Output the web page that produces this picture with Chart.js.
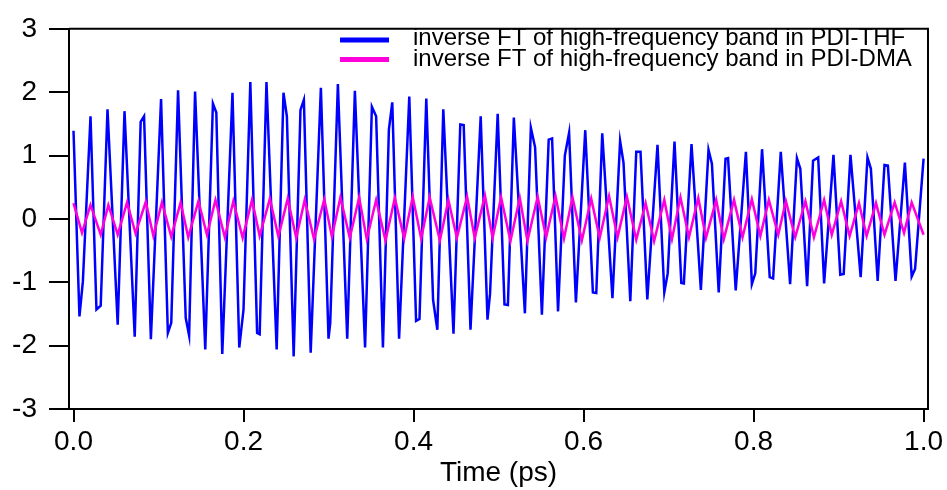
<!DOCTYPE html>
<html>
<head>
<meta charset="utf-8">
<script src="https://cdn.jsdelivr.net/npm/chart.js@4.4.1/dist/chart.umd.min.js"></script>
<style>
  html, body { margin: 0; padding: 0; background: #fff; }
  canvas { display: block; }
</style>
</head>
<body>
<canvas id="chart" width="947" height="490"></canvas>
<script>
// PDI-THF (time in ps, signal)
const thfTime = [
    0, 0.007, 0.011, 0.020, 0.027, 0.032, 0.040, 0.052, 0.060, 0.072,
    0.079, 0.083, 0.091, 0.103, 0.111, 0.115, 0.123, 0.132, 0.136, 0.143,
    0.155, 0.164, 0.168, 0.175, 0.187, 0.195, 0.200, 0.208, 0.216, 0.219,
    0.227, 0.239, 0.247, 0.251, 0.259, 0.267, 0.271, 0.279, 0.291, 0.300,
    0.302, 0.311, 0.322, 0.331, 0.343, 0.351, 0.356, 0.364, 0.371, 0.375,
    0.383, 0.395, 0.403, 0.407, 0.415, 0.423, 0.428, 0.435, 0.447, 0.455,
    0.459, 0.467, 0.479, 0.487, 0.490, 0.499, 0.507, 0.511, 0.518, 0.531,
    0.538, 0.543, 0.551, 0.559, 0.563, 0.570, 0.578, 0.583, 0.591, 0.602,
    0.611, 0.615, 0.622, 0.634, 0.643, 0.647, 0.655, 0.662, 0.667, 0.675,
    0.687, 0.695, 0.699, 0.707, 0.715, 0.718, 0.727, 0.738, 0.747, 0.751,
    0.759, 0.767, 0.770, 0.779, 0.791, 0.798, 0.802, 0.810, 0.819, 0.823,
    0.832, 0.843, 0.851, 0.855, 0.863, 0.870, 0.876, 0.883, 0.894, 0.902,
    0.906, 0.914, 0.926, 0.934, 0.938, 0.946, 0.954, 0.958, 0.967, 0.978,
    0.986, 0.990, 1.000
];
const thfSignal = [
    1.39, -1.54, -0.99, 1.62, -1.43, -1.37, 1.73, -1.67, 1.70, -1.86,
    1.53, 1.62, -1.90, 1.89, -1.80, -1.64, 2.03, -1.56, -1.84, 2.01,
    -2.06, 1.82, 1.68, -2.13, 1.99, -2.03, -1.43, 2.16, -1.80, -1.82,
    2.16, -2.06, 1.99, 1.62, -2.17, 1.72, 1.88, -2.11, 2.07, -1.89,
    -1.64, 2.13, -1.89, 2.02, -2.03, 1.77, 1.62, -2.03, 1.41, 1.84,
    -1.89, 1.93, -1.61, -1.58, 1.90, -1.28, -1.75, 1.73, -1.81, 1.49,
    1.48, -1.75, 1.62, -1.59, -1.18, 1.66, -1.35, -1.36, 1.60, -1.49,
    1.44, 1.13, -1.51, 1.25, 1.27, -1.46, 1.00, 1.36, -1.32, 1.40,
    -1.16, -1.17, 1.35, -1.25, 1.23, 0.89, -1.30, 1.06, 1.06, -1.27,
    1.17, -1.16, -0.86, 1.22, -1.01, -1.02, 1.18, -1.12, 1.09, 0.87,
    -1.16, 0.95, 0.96, -1.13, 1.06, -1.03, -0.86, 1.10, -0.92, -0.94,
    1.06, -1.03, 0.96, 0.79, -1.06, 0.92, 0.97, -1.02, 1.01, -0.88,
    -0.87, 1.01, -0.92, 0.97, 0.79, -0.98, 0.85, 0.84, -0.98, 0.89,
    -0.91, -0.79, 0.95
];

// PDI-DMA
const dmaTime = [
    0, 0.010, 0.020, 0.032, 0.041, 0.052, 0.063, 0.073, 0.085, 0.094,
    0.104, 0.115, 0.126, 0.135, 0.147, 0.157, 0.167, 0.178, 0.188, 0.199,
    0.210, 0.219, 0.231, 0.241, 0.252, 0.262, 0.272, 0.283, 0.295, 0.304,
    0.314, 0.325, 0.336, 0.345, 0.356, 0.367, 0.378, 0.389, 0.399, 0.409,
    0.419, 0.431, 0.441, 0.451, 0.463, 0.472, 0.484, 0.493, 0.503, 0.514,
    0.525, 0.534, 0.546, 0.556, 0.567, 0.577, 0.587, 0.598, 0.609, 0.619,
    0.630, 0.640, 0.651, 0.662, 0.673, 0.683, 0.695, 0.704, 0.714, 0.724,
    0.735, 0.744, 0.756, 0.765, 0.777, 0.787, 0.798, 0.808, 0.818, 0.829,
    0.838, 0.849, 0.861, 0.871, 0.883, 0.892, 0.903, 0.913, 0.924, 0.933,
    0.944, 0.954, 0.966, 0.977, 0.986, 1.000
];
const dmaSignal = [
    0.25, -0.22, 0.22, -0.25, 0.22, -0.25, 0.26, -0.23, 0.27, -0.27,
    0.26, -0.28, 0.26, -0.29, 0.28, -0.25, 0.30, -0.29, 0.28, -0.30,
    0.30, -0.27, 0.32, -0.28, 0.32, -0.30, 0.30, -0.32, 0.31, -0.28,
    0.34, -0.30, 0.34, -0.32, 0.30, -0.34, 0.33, -0.31, 0.35, -0.31,
    0.34, -0.34, 0.30, -0.30, 0.35, -0.30, 0.37, -0.30, 0.34, -0.35,
    0.33, -0.35, 0.35, -0.29, 0.36, -0.31, 0.34, -0.34, 0.32, -0.30,
    0.36, -0.29, 0.35, -0.33, 0.25, -0.35, 0.30, -0.32, 0.34, -0.29,
    0.33, -0.30, 0.30, -0.32, 0.30, -0.29, 0.31, -0.27, 0.30, -0.25,
    0.28, -0.29, 0.28, -0.29, 0.30, -0.25, 0.28, -0.27, 0.25, -0.27,
    0.25, -0.25, 0.26, -0.22, 0.26, -0.25
];

const xTicks = [0, 0.2, 0.4, 0.6, 0.8, 1.0];
const yTicks = [-3, -2, -1, 0, 1, 2, 3];
const seriesLabels = [
    "inverse FT of high-frequency band in PDI-THF",
    "inverse FT of high-frequency band in PDI-DMA"
];

function points(t, v) {
    return t.map(function (x, i) { return { x: x, y: v[i] }; });
}

const FONT = '"Liberation Sans", Arial, sans-serif';

// top/right frame lines and the two-row legend inside the plot
const frameAndLegend = {
    id: 'frameAndLegend',
    afterDatasetsDraw(chart) {
        const ctx = chart.ctx;
        const a = chart.chartArea;
        ctx.save();
        ctx.strokeStyle = '#000';
        ctx.lineWidth = 2;
        ctx.beginPath();
        ctx.moveTo(a.left, a.top);
        ctx.lineTo(a.right, a.top);
        ctx.lineTo(a.right, a.bottom);
        ctx.stroke();

        ctx.font = '24px ' + FONT;
        ctx.textBaseline = 'alphabetic';
        ctx.textAlign = 'left';
        chart.data.datasets.forEach(function (ds, i) {
            const ly = 40 + i * 19.5;
            ctx.strokeStyle = ds.borderColor;
            ctx.lineWidth = 5;
            ctx.beginPath();
            ctx.moveTo(340, ly);
            ctx.lineTo(389, ly);
            ctx.stroke();
            ctx.fillStyle = '#000';
            ctx.fillText(ds.label, 413, 45 + i * 20.5);
        });
        ctx.restore();
    }
};

const config = {
    type: 'line',
    data: {
        datasets: [{
            label: seriesLabels[0],
            data: points(thfTime, thfSignal),
            borderColor: '#0000ff',
            borderWidth: 2.5,
            pointRadius: 0,
            tension: 0,
            order: 1
        }, {
            label: seriesLabels[1],
            data: points(dmaTime, dmaSignal),
            borderColor: '#ff00dd',
            borderWidth: 2.5,
            pointRadius: 0,
            tension: 0,
            order: 0
        }]
    },
    options: {
        responsive: false,
        animation: false,
        layout: { padding: { top: 21, right: 19, left: 0, bottom: 0 } },
        plugins: {
            legend: { display: false },
            tooltip: { enabled: false }
        },
        scales: {
            x: {
                type: 'linear',
                min: -0.0053,
                max: 1.0052,
                afterBuildTicks: function (s) { s.ticks = xTicks.map(function (v) { return { value: v }; }); },
                afterFit: function (s) { s.height = 81; },
                ticks: {
                    callback: function (v) { return v.toFixed(1); },
                    color: '#000',
                    font: { family: FONT, size: 28 },
                    padding: 3,
                    maxRotation: 0,
                    autoSkip: false
                },
                grid: { drawOnChartArea: false, tickLength: 13, color: '#000', lineWidth: 2 },
                border: { display: true, color: '#000', width: 2 },
                title: {
                    display: true,
                    text: 'Time (ps)',
                    color: '#000',
                    font: { family: FONT, size: 28 },
                    padding: { top: 0, bottom: 0 }
                }
            },
            y: {
                min: -3,
                max: 3,
                afterBuildTicks: function (s) { s.ticks = yTicks.map(function (v) { return { value: v }; }); },
                afterFit: function (s) { s.width = 69; },
                ticks: {
                    callback: function (v) { return String(v); },
                    color: '#000',
                    font: { family: FONT, size: 28 },
                    padding: 12
                },
                grid: { drawOnChartArea: false, tickLength: 20, color: '#000', lineWidth: 2 },
                border: { display: true, color: '#000', width: 2 }
            }
        }
    },
    plugins: [frameAndLegend]
};

new Chart(document.getElementById('chart'), config);
</script>
</body>
</html>
